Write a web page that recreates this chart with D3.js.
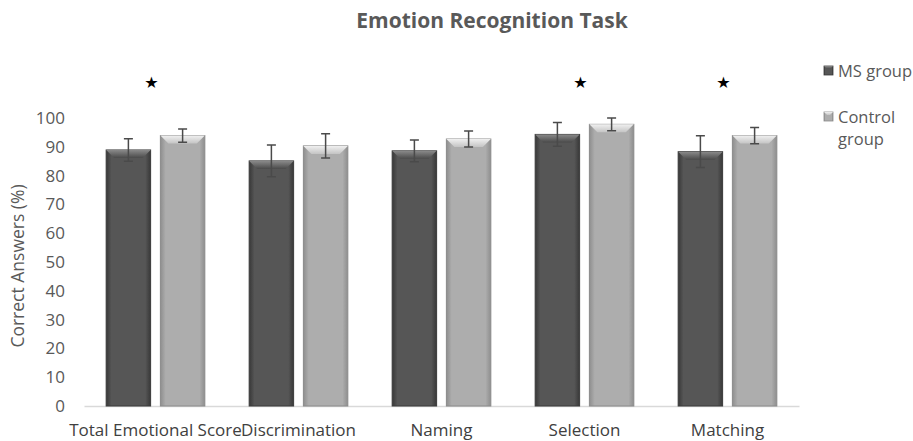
<!DOCTYPE html>
<html>
<head>
<meta charset="utf-8">
<script src="https://cdn.jsdelivr.net/npm/d3@7"></script>
<style>
  html, body { margin: 0; padding: 0; background: #fff; }
  svg { display: block; font-family: "Open Sans", "Liberation Sans", sans-serif; }
</style>
</head>
<body>
<svg id="chart" width="913" height="441"></svg>
<script>
const categories = ["Total Emotional Score", "Discrimination", "Naming", "Selection", "Matching"];
const seriesNames = ["MS group", "Control group"];
const msValues = [88.9, 85.1, 88.6, 94.3, 88.3];
const msErrors = [3.9, 5.5, 3.8, 4.1, 5.5];
const controlValues = [93.9, 90.3, 92.7, 97.8, 93.9];
const controlErrors = [2.3, 4.2, 2.8, 2.2, 2.8];
const significant = ["Total Emotional Score", "Selection", "Matching"];
const yTicks = [0, 10, 20, 30, 40, 50, 60, 70, 80, 90, 100];
const titleText = "Emotion Recognition Task";
const yTitle = "Correct Answers (%)";

const svg = d3.select("#chart");
const margin = { left: 84, right: 114, top: 118, bottom: 35 };
const W = 913, H = 441;

const x = d3.scaleBand().domain(categories).range([margin.left, W - margin.right])
  .paddingInner(0.31).paddingOuter(0.155);
const xi = d3.scaleBand().domain(seriesNames).range([0, x.bandwidth()]).paddingInner(0.18).paddingOuter(0);
const y = d3.scaleLinear().domain([0, 100]).range([H - margin.bottom, margin.top]);

const styles = {
  "MS group": { edge: "#383838", mid: "#565656", top: "#8a8a8a", topDark: "#4a4a4a", stroke: "#3a3a3a" },
  "Control group": { edge: "#8e8e8e", mid: "#adadad", top: "#f0f0f0", topDark: "#c4c4c4", stroke: "#8a8a8a" }
};

const defs = svg.append("defs");
seriesNames.forEach((s, i) => {
  const st = styles[s];
  const g = defs.append("linearGradient").attr("id", "side" + i).attr("x1", "0").attr("x2", "1").attr("y1", "0").attr("y2", "0");
  g.append("stop").attr("offset", "0").attr("stop-color", st.edge);
  g.append("stop").attr("offset", "0.12").attr("stop-color", st.mid);
  g.append("stop").attr("offset", "0.88").attr("stop-color", st.mid);
  g.append("stop").attr("offset", "1").attr("stop-color", st.edge);
  const t = defs.append("linearGradient").attr("id", "top" + i).attr("x1", "0").attr("x2", "0").attr("y1", "0").attr("y2", "1");
  t.append("stop").attr("offset", "0").attr("stop-color", st.top);
  t.append("stop").attr("offset", "1").attr("stop-color", st.topDark);
});

// Title
svg.append("text").attr("x", 492).attr("y", 28).attr("text-anchor", "middle")
  .attr("font-size", 21).attr("font-weight", "bold").attr("fill", "#595959").text(titleText);

// Y axis (labels only)
const yAxis = d3.axisLeft(y).tickValues(yTicks).tickSize(0).tickPadding(0).tickFormat(d3.format("d"));
const ya = svg.append("g").attr("transform", `translate(${margin.left - 19},0)`).call(yAxis);
ya.select(".domain").remove();
ya.selectAll("text").attr("font-size", 17).attr("fill", "#595959").attr("font-family", "'Open Sans', sans-serif");

svg.append("text").attr("transform", `translate(24,${(y(0) + y(100)) / 2 + 4}) rotate(-90)`)
  .attr("text-anchor", "middle").attr("font-size", 17.5).attr("fill", "#595959").text(yTitle);

// X axis
const xAxis = d3.axisBottom(x).tickSize(0).tickPadding(18);
const xa = svg.append("g").attr("transform", `translate(0,${y(0)})`).call(xAxis);
xa.select(".domain").attr("stroke", "#d9d9d9").attr("stroke-width", 1.5);
xa.selectAll("text").attr("font-size", 17).attr("fill", "#404040").attr("font-family", "'Open Sans', sans-serif");

// Bars
const rows = categories.map((c, i) => ({
  cat: c,
  vals: [
    { s: seriesNames[0], v: msValues[i], e: msErrors[i], idx: 0 },
    { s: seriesNames[1], v: controlValues[i], e: controlErrors[i], idx: 1 }
  ]
}));

const groups = svg.append("g").selectAll("g").data(rows).join("g")
  .attr("transform", d => `translate(${x(d.cat)},0)`);

const bars = groups.selectAll("g.bar").data(d => d.vals).join("g").attr("class", "bar");
const bev = 8;
bars.append("rect")
  .attr("x", d => xi(d.s)).attr("y", d => y(d.v))
  .attr("width", xi.bandwidth()).attr("height", d => y(0) - y(d.v))
  .attr("fill", d => `url(#side${d.idx})`)
  .attr("stroke", d => styles[d.s].stroke).attr("stroke-width", 1);
bars.append("path")
  .attr("d", d => {
    const x0 = xi(d.s), x1 = x0 + xi.bandwidth(), y0 = y(d.v);
    return `M${x0},${y0}L${x1},${y0}L${x1 - bev},${y0 + bev}L${x0 + bev},${y0 + bev}Z`;
  })
  .attr("fill", d => `url(#top${d.idx})`);

// Error bars
const cap = 4.5;
bars.append("path")
  .attr("d", d => {
    const cx = xi(d.s) + xi.bandwidth() / 2, yt = y(d.v + d.e), yb = y(d.v - d.e);
    return `M${cx - cap},${yt}H${cx + cap}M${cx},${yt}V${yb}M${cx - cap},${yb}H${cx + cap}`;
  })
  .attr("stroke", "#4a4a4a").attr("stroke-width", 1.5).attr("fill", "none");

// Significance stars
svg.append("g").selectAll("text").data(significant).join("text")
  .attr("x", d => x(d) + x.bandwidth() / 2 - 4).attr("y", 88)
  .attr("text-anchor", "middle").attr("font-size", 16).attr("fill", "#000")
  .attr("font-family", "'DejaVu Sans', sans-serif").text("★");

// Legend
const legend = svg.append("g").attr("transform", "translate(824,0)");
const legendRows = [
  { s: seriesNames[0], lines: ["MS group"], y: 66, idx: 0 },
  { s: seriesNames[1], lines: ["Control", "group"], y: 112, idx: 1 }
];
const lg = legend.selectAll("g").data(legendRows).join("g").attr("transform", d => `translate(0,${d.y})`);
lg.append("rect").attr("width", 9).attr("height", 9).attr("fill", d => `url(#side${d.idx})`)
  .attr("stroke", d => styles[d.s].stroke).attr("stroke-width", 0.8);
lg.append("path").attr("d", "M0,0L9,0L6,3L3,3Z").attr("fill", d => `url(#top${d.idx})`);
lg.append("text").attr("x", 14).attr("y", 11).attr("font-size", 16.5).attr("fill", "#595959")
  .selectAll("tspan").data(d => d.lines).join("tspan")
  .attr("x", 14).attr("dy", (d, i) => i === 0 ? 0 : 22).text(d => d);
</script>
</body>
</html>
